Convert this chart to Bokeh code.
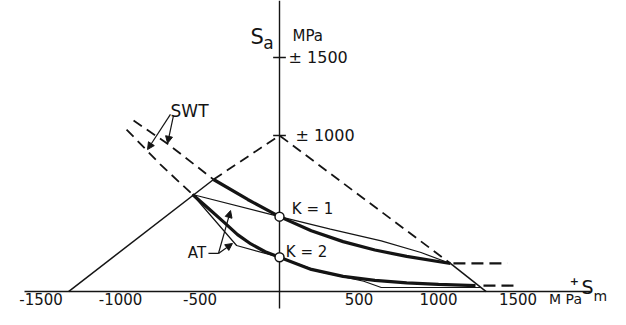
from bokeh.plotting import figure
from bokeh.models import Range1d, Arrow, NormalHead
from bokeh.core.properties import value
from bokeh.embed import file_html
from bokeh.resources import INLINE

# ---------------- data (MPa) ----------------
xtick_values = [-1500, -1000, -500, 500, 1000, 1500]
xtick_labels = ["-1500", "-1000", "-500", "500", "1000", "1500"]
ytick_values = [1000, 1500]
ytick_labels = ["± 1000", "± 1500"]

# yield lines and Goodman line
yield_left_sm = [-1327, -415]
yield_left_sa = [0, 718]
goodman_sm = [-415, 0, 1075]
goodman_sa = [718, 1000, 180]
yield_right_sm = [1075, 1300]
yield_right_sa = [180, 0]

# SWT curves (dashed continuation beyond yield)
swt_k1_dash_sm = [-918, -700, -415]
swt_k1_dash_sa = [1096, 944, 718]
swt_k2_dash_sm = [-962, -750, -547]
swt_k2_dash_sa = [1038, 815, 622]

# SWT curves (solid, thick)
swt_k1_sm = [-415, -200, 0, 200, 400, 600, 800, 1075]
swt_k1_sa = [718, 590, 480, 390, 320, 266, 225, 180]
swt_k2_sm = [-547, -450, -350, -264, -180, -90, 0, 200, 400, 600, 800, 1000, 1233]
swt_k2_sa = [622, 535, 445, 365, 305, 255, 220, 142, 97, 72, 56, 46, 38]

# AT curves (thin)
at_k1_sm = [-547, 0, 320, 640, 890, 1075]
at_k1_sa = [622, 480, 400, 325, 250, 180]
at_k2_sm = [-547, -270, 0, 250, 530, 640, 1262]
at_k2_sa = [622, 295, 220, 128, 66, 26, 26]

# dashed extensions at the right
k1_ext_sm = [1094, 1434]
k1_ext_sa = [180, 180]
k2_ext_sm = [1283, 1497]
k2_ext_sa = [38, 38]

# K points
k_sm = [0, 0]
k_sa = [480, 220]
k_labels = ["K = 1", "K = 2"]

# ---------------- figure ----------------
INK = "#141414"
FONT = value("DejaVu Sans")

p = figure(width=610, height=309, x_range=Range1d(-1755, 2082),
           y_range=Range1d(-115, 1865), output_backend="svg",
           toolbar_location=None, x_axis_type=None, y_axis_type=None,
           min_border=0)
p.grid.visible = False
p.outline_line_color = None
p.background_fill_color = "white"
p.border_fill_color = "white"

# axes (crossing at the origin)
p.line([-1604, 1956], [0, 0], line_color=INK, line_width=1.6)
p.line([0, 0], [-109, 1865], line_color=INK, line_width=1.4)
for v in ytick_values:
    p.line([-40, 40], [v, v], line_color=INK, line_width=1.4)

# yield / Goodman
p.line(yield_left_sm, yield_left_sa, line_color=INK, line_width=1.5)
p.line(goodman_sm, goodman_sa, line_color=INK, line_width=1.8, line_dash="10 6")
p.line(yield_right_sm, yield_right_sa, line_color=INK, line_width=1.5)

# SWT
p.line(swt_k1_dash_sm, swt_k1_dash_sa, line_color=INK, line_width=1.8, line_dash="10 6")
p.line(swt_k2_dash_sm, swt_k2_dash_sa, line_color=INK, line_width=1.8, line_dash="10 6")
p.line(swt_k1_sm, swt_k1_sa, line_color=INK, line_width=3.2)
p.line(swt_k2_sm, swt_k2_sa, line_color=INK, line_width=3.2)

# AT
p.line(at_k1_sm, at_k1_sa, line_color=INK, line_width=1.2)
p.line(at_k2_sm, at_k2_sa, line_color=INK, line_width=1.2)

# extensions
p.line(k1_ext_sm, k1_ext_sa, line_color=INK, line_width=2.2, line_dash="12 6")
p.line(k2_ext_sm, k2_ext_sa, line_color=INK, line_width=2.2, line_dash="12 6")

# K points
p.scatter(k_sm, k_sa, size=9, fill_color="white", line_color=INK, line_width=1.5)

# ---------------- texts ----------------
p.text(x=xtick_values, y=[-48] * len(xtick_values), text=xtick_labels,
       text_font=FONT, text_font_size="15px", text_align="center",
       text_baseline="middle", text_color=INK)
p.text(x=[1799], y=[-48], text=["M Pa"], text_font=FONT, text_font_size="14px",
       text_align="center", text_baseline="middle", text_color=INK)
p.text(x=[100, 57], y=ytick_values, text=ytick_labels, text_font=FONT,
       text_font_size="16px", text_align="left", text_baseline="middle",
       text_color=INK)
# S_a MPa
p.text(x=[-182], y=[1628], text=["S"], text_font=FONT, text_font_size="21px",
       text_align="left", text_baseline="alphabetic", text_color=INK)
p.text(x=[-103], y=[1590], text=["a"], text_font=FONT, text_font_size="17px",
       text_align="left", text_baseline="alphabetic", text_color=INK)
p.text(x=[82], y=[1635], text=["MPa"], text_font=FONT, text_font_size="15px",
       text_align="left", text_baseline="alphabetic", text_color=INK)
# +S_m
p.text(x=[1855], y=[67], text=["+"], text_font=FONT, text_font_size="11px",
       text_align="center", text_baseline="middle", text_color=INK,
       text_font_style="bold")
p.text(x=[1899], y=[26], text=["S"], text_font=FONT, text_font_size="19px",
       text_align="left", text_baseline="alphabetic", text_color=INK)
p.text(x=[1975], y=[-26], text=["m"], text_font=FONT, text_font_size="14px",
       text_align="left", text_baseline="alphabetic", text_color=INK)
# K labels
p.text(x=[208, 170], y=[526, 256], text=k_labels, text_font=FONT,
       text_font_size="15px", text_align="center", text_baseline="middle",
       text_color=INK)
# SWT / AT labels
p.text(x=[-566], y=[1160], text=["SWT"], text_font=FONT, text_font_size="17px",
       text_align="center", text_baseline="middle", text_color=INK)
p.text(x=[-519], y=[247], text=["AT"], text_font=FONT, text_font_size="15px",
       text_align="center", text_baseline="middle", text_color=INK)

# leaders with arrows
p.line([-447, -384], [244, 244], line_color=INK, line_width=1.2)
for xs, ys, xe, ye in [(-384, 244, -308, 519), (-384, 244, -296, 308),
                       (-686, 1135, -830, 910), (-667, 1128, -704, 950)]:
    p.add_layout(Arrow(end=NormalHead(size=7, fill_color=INK, line_color=INK),
                       x_start=xs, y_start=ys, x_end=xe, y_end=ye,
                       line_color=INK, line_width=1.2))

open("out.html", "w").write(file_html(p, INLINE))
